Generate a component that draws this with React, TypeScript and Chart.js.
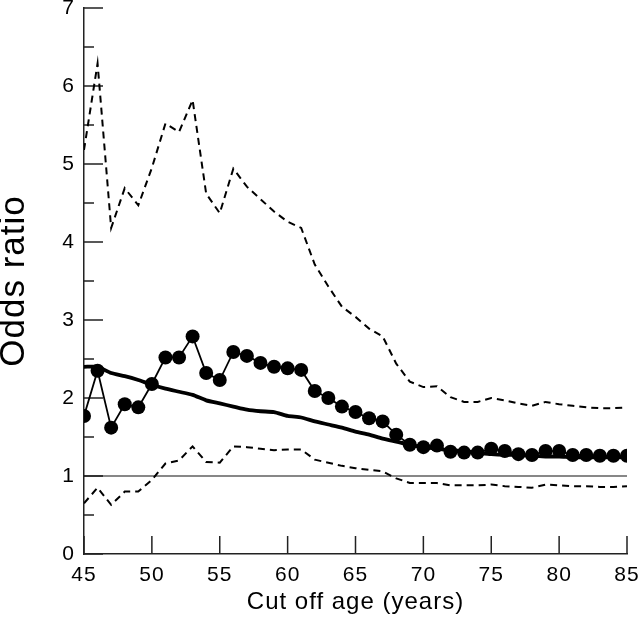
import React, { useEffect, useRef } from "react";
import { Chart, registerables } from "chart.js";

Chart.register(...registerables);

const ages = [45, 46, 47, 48, 49, 50, 51, 52, 53, 54, 55, 56, 57, 58, 59, 60, 61, 62, 63, 64, 65, 66, 67, 68, 69, 70, 71, 72, 73, 74, 75, 76, 77, 78, 79, 80, 81, 82, 83, 84, 85];

const oddsRatio = [1.77, 2.35, 1.62, 1.92, 1.88, 2.18, 2.52, 2.52, 2.79, 2.32, 2.23, 2.59, 2.54, 2.45, 2.40, 2.38, 2.36, 2.09, 2.00, 1.89, 1.82, 1.74, 1.70, 1.53, 1.40, 1.37, 1.39, 1.31, 1.30, 1.30, 1.35, 1.32, 1.28, 1.27, 1.32, 1.32, 1.27, 1.27, 1.26, 1.26, 1.26];

const smoothed = [2.40, 2.40, 2.32, 2.28, 2.23, 2.17, 2.12, 2.08, 2.04, 1.97, 1.93, 1.89, 1.85, 1.83, 1.82, 1.77, 1.75, 1.70, 1.66, 1.62, 1.57, 1.53, 1.48, 1.44, 1.40, 1.37, 1.35, 1.33, 1.32, 1.30, 1.28, 1.27, 1.27, 1.26, 1.25, 1.25, 1.24, 1.24, 1.24, 1.24, 1.24];

const upperCI = [5.18, 6.29, 4.18, 4.69, 4.47, 4.95, 5.52, 5.41, 5.82, 4.62, 4.37, 4.94, 4.71, 4.55, 4.39, 4.26, 4.18, 3.71, 3.43, 3.17, 3.04, 2.89, 2.79, 2.44, 2.21, 2.14, 2.15, 2.01, 1.95, 1.95, 2.00, 1.97, 1.93, 1.90, 1.95, 1.92, 1.90, 1.88, 1.87, 1.87, 1.88];

const lowerCI = [0.65, 0.85, 0.63, 0.80, 0.80, 0.95, 1.16, 1.20, 1.38, 1.18, 1.17, 1.38, 1.37, 1.35, 1.33, 1.34, 1.34, 1.21, 1.17, 1.13, 1.10, 1.08, 1.06, 0.97, 0.91, 0.91, 0.91, 0.88, 0.88, 0.88, 0.89, 0.87, 0.86, 0.85, 0.89, 0.88, 0.87, 0.87, 0.86, 0.86, 0.87];

const referenceX = [45, 85];
const referenceY = [1, 1];

const xTicks = [45, 50, 55, 60, 65, 70, 75, 80, 85];
const yTicks = [0, 1, 2, 3, 4, 5, 6, 7];
const yMinorTicks = [0.5, 1.5, 2.5, 3.5, 4.5, 5.5, 6.5];

const FONT = "'Liberation Sans', Arial, Helvetica, sans-serif";
const AXIS_COLOR = "#222";

const toPoints = (xs: number[], ys: number[]) => xs.map((x, i) => ({ x, y: ys[i] }));

const letterSpacingPlugin = {
  id: "letterSpacing",
  beforeDraw(chart: any) {
    (chart.ctx as any).letterSpacing = "1px";
  },
};

const tickMarksPlugin = {
  id: "inwardTicks",
  beforeDatasetsDraw(chart: any) {
    const { ctx, scales } = chart;
    const xs = scales.x;
    const ys = scales.y;
    const left = xs.left;
    const bottom = ys.bottom;
    ctx.save();
    ctx.strokeStyle = AXIS_COLOR;
    ctx.lineWidth = 1.5;
    ctx.beginPath();
    yTicks.forEach((v) => {
      const y = ys.getPixelForValue(v);
      ctx.moveTo(left, y);
      ctx.lineTo(left + 19, y);
    });
    yMinorTicks.forEach((v) => {
      const y = ys.getPixelForValue(v);
      ctx.moveTo(left, y);
      ctx.lineTo(left + 10, y);
    });
    xTicks.forEach((v) => {
      const x = xs.getPixelForValue(v);
      ctx.moveTo(x, bottom);
      ctx.lineTo(x, bottom - 18);
    });
    ctx.stroke();
    ctx.restore();
  },
};

export default function App() {
  const ref = useRef<HTMLCanvasElement | null>(null);

  useEffect(() => {
    document.body.style.margin = "0";
    const canvas = ref.current;
    if (!canvas) return;
    const chart = new Chart(canvas, {
      type: "line",
      data: {
        datasets: [
          {
            label: "Odds ratio",
            data: toPoints(ages, oddsRatio),
            borderColor: "#000",
            backgroundColor: "#000",
            borderWidth: 1.8,
            pointRadius: 7,
            pointBorderWidth: 0,
            pointBackgroundColor: "#000",
            tension: 0,
          },
          {
            label: "Smoothed",
            data: toPoints(ages, smoothed),
            borderColor: "#000",
            borderWidth: 3.8,
            pointRadius: 0,
            tension: 0.2,
          },
          {
            label: "Upper 95% CI",
            data: toPoints(ages, upperCI),
            borderColor: "#000",
            borderWidth: 2,
            borderDash: [7, 5],
            pointRadius: 0,
            tension: 0,
          },
          {
            label: "Lower 95% CI",
            data: toPoints(ages, lowerCI),
            borderColor: "#000",
            borderWidth: 2,
            borderDash: [7, 5],
            pointRadius: 0,
            tension: 0,
          },
          {
            label: "Reference",
            data: toPoints(referenceX, referenceY),
            borderColor: "#111",
            borderWidth: 1.2,
            pointRadius: 0,
            tension: 0,
          },
        ],
      },
      options: {
        responsive: false,
        animation: false,
        layout: { padding: { top: 8, right: 13, left: 0, bottom: 0 } },
        plugins: {
          legend: { display: false },
          tooltip: { enabled: false },
        },
        scales: {
          x: {
            type: "linear",
            min: 45,
            max: 85,
            grid: { display: false, drawTicks: false },
            border: { display: true, color: AXIS_COLOR, width: 1.5 },
            ticks: {
              stepSize: 5,
              color: "#000",
              padding: 9,
              maxRotation: 0,
              font: { family: FONT, size: 21 },
            },
            title: {
              display: true,
              text: "Cut off age (years)",
              color: "#000",
              font: { family: FONT, size: 24 },
              padding: { top: 0, bottom: 8 },
            },
            afterFit(scale: any) {
              scale.height = 71;
              scale.paddingLeft = 0;
              scale.paddingRight = 0;
            },
          },
          y: {
            type: "linear",
            min: 0,
            max: 7,
            grid: { display: false, drawTicks: false },
            border: { display: true, color: AXIS_COLOR, width: 1.5 },
            ticks: {
              stepSize: 1,
              color: "#000",
              padding: 9,
              font: { family: FONT, size: 21 },
            },
            title: {
              display: true,
              text: "Odds ratio",
              color: "#000",
              font: { family: FONT, size: 35, lineHeight: 0.8 },
              padding: { top: 0, bottom: 0 },
            },
            afterFit(scale: any) {
              scale.width = 84;
              scale.paddingTop = 0;
              scale.paddingBottom = 0;
            },
          },
        },
      },
      plugins: [letterSpacingPlugin, tickMarksPlugin],
    });
    return () => chart.destroy();
  }, []);

  return (
    <div style={{ width: 640, height: 625, background: "#fff" }}>
      <canvas ref={ref} width={640} height={625} />
    </div>
  );
}
